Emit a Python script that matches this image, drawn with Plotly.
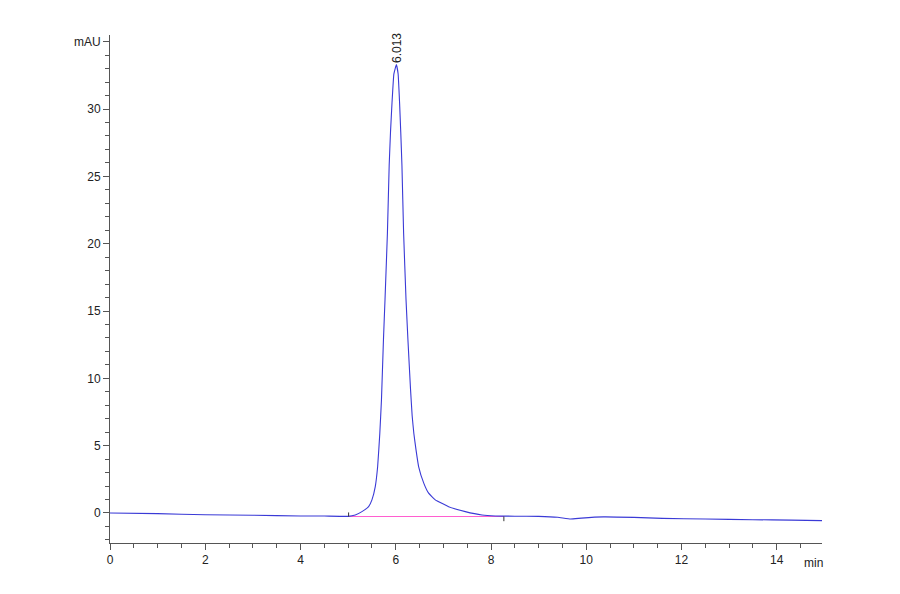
import plotly.graph_objects as go

# Chromatogram trace (time in min, signal in mAU)
retention_time = [0.0, 1.0, 2.0, 3.0, 4.0, 4.5, 5.0, 5.15, 5.29, 5.43, 5.50, 5.57, 5.62,
                  5.665, 5.70, 5.742, 5.775, 5.825, 5.862, 5.89, 5.922, 5.96, 6.013,
                  6.05, 6.08, 6.105, 6.13, 6.165, 6.215, 6.255, 6.31, 6.345, 6.38, 6.425,
                  6.48, 6.59, 6.69, 6.83, 7.11, 7.46, 7.81, 8.09, 8.5, 9.0, 9.4, 9.67,
                  9.9, 10.36, 11.0, 11.6, 12.5, 13.5, 14.3, 14.95]
absorbance = [0.0, -0.05, -0.13, -0.17, -0.22, -0.23, -0.25, -0.15, 0.1, 0.47, 0.97, 1.96, 3.45,
              5.9, 8.4, 12.9, 15.9, 20.8, 25.8, 28.3, 30.5, 32.6, 33.3,
              32.6, 30.5, 28.3, 25.8, 20.8, 15.9, 12.9, 9.2, 7.2, 5.9, 4.7,
              3.45, 2.2, 1.47, 0.97, 0.47, 0.1, -0.15, -0.22, -0.24, -0.25, -0.32, -0.45,
              -0.38, -0.29, -0.33, -0.4, -0.45, -0.5, -0.53, -0.57]

# Integration (baseline) start/end
integ_time = [5.01, 8.27]
integ_value = [-0.26, -0.26]

peak_time = 6.013
peak_height = 33.3
peak_label = "6.013"

x_ticks = [0, 2, 4, 6, 8, 10, 12, 14]
y_ticks = [0, 5, 10, 15, 20, 25, 30, 35]
y_tick_text = ["0", "5", "10", "15", "20", "25", "30", "mAU"]

FONT = "Liberation Sans, Arial, sans-serif"

fig = go.Figure()

fig.add_trace(go.Scatter(
    x=integ_time, y=integ_value, mode="lines",
    line=dict(color="#ff5fd0", width=1.2), hoverinfo="skip", showlegend=False))

fig.add_trace(go.Scatter(
    x=retention_time, y=absorbance, mode="lines",
    line=dict(color="#3a3ad6", width=1.1, shape="spline", smoothing=0.3),
    showlegend=False))

# small integration tick marks
tx, ty = [], []
for t, v, d in zip(integ_time, integ_value, [0.3, -0.35]):
    tx += [t, t, None]
    ty += [v, v + d, None]
fig.add_trace(go.Scatter(x=tx, y=ty, mode="lines",
                         line=dict(color="#333333", width=1), hoverinfo="skip",
                         showlegend=False))

fig.add_annotation(x=peak_time, y=peak_height, text=peak_label, textangle=-90,
                   showarrow=False, xanchor="center", yanchor="bottom",
                   font=dict(family=FONT, size=12, color="#222"))

fig.add_annotation(x=14.78, y=0, yref="paper", text="min", showarrow=False,
                   yanchor="top", yshift=-11,
                   font=dict(family=FONT, size=12, color="#222"))

axis_common = dict(showgrid=False, zeroline=False, showline=True, linecolor="#555",
                   linewidth=1, ticks="outside", tickcolor="#555", ticklen=6,
                   tickfont=dict(family=FONT, size=12, color="#222"))

fig.update_xaxes(range=[0, 14.95], tickmode="array", tickvals=x_ticks,
                 minor=dict(tickmode="linear", tick0=0, dtick=0.5, ticks="outside",
                            ticklen=4, tickcolor="#555"),
                 **axis_common)
fig.update_yaxes(range=[-2.23, 35.5], tickmode="array", tickvals=y_ticks,
                 ticktext=y_tick_text,
                 minor=dict(tickmode="linear", tick0=0, dtick=1, ticks="outside",
                            ticklen=4, tickcolor="#555"),
                 **axis_common)

fig.update_layout(width=900, height=594, plot_bgcolor="white", paper_bgcolor="white",
                  margin=dict(l=102, r=86, t=27, b=59), showlegend=False)

fig.write_html("out.html")
